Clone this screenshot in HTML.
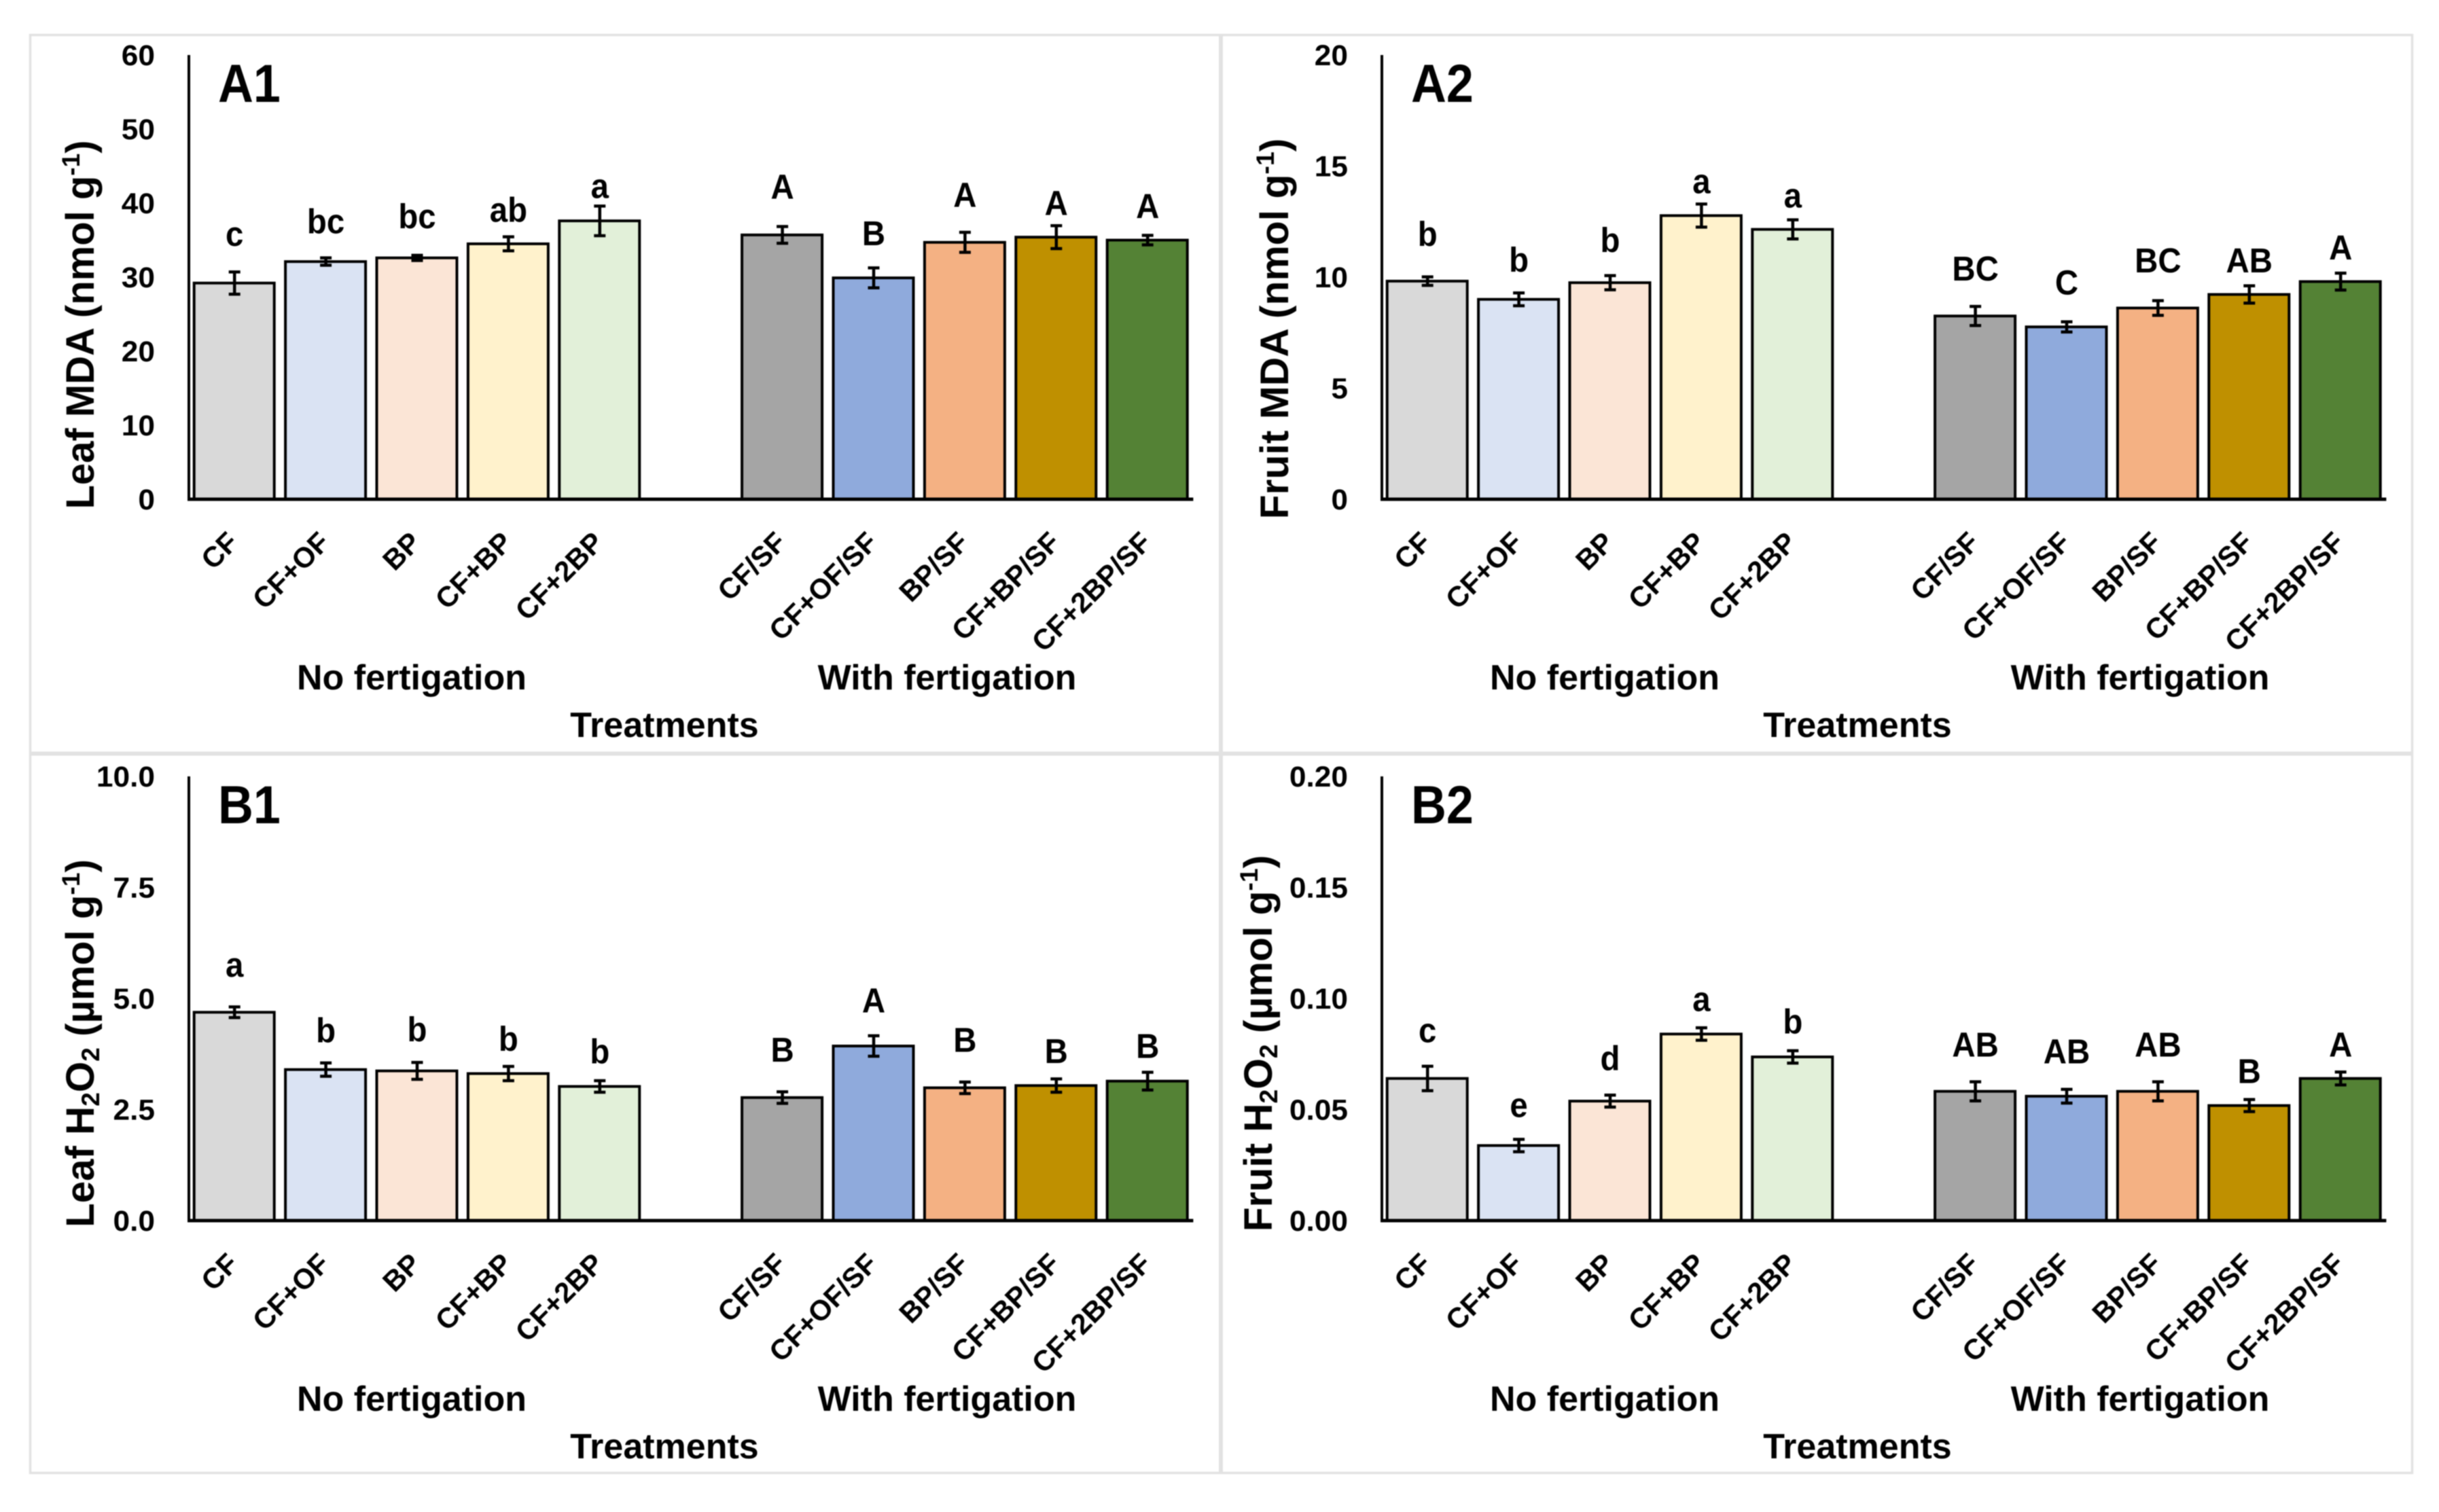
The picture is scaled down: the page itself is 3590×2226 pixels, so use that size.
<!DOCTYPE html>
<html lang="en">
<head>
<meta charset="utf-8">
<title>Leaf and fruit MDA and H2O2 by treatment</title>
<style>
  html, body { margin: 0; padding: 0; background: #fff; }
  body { width: 3590px; height: 2226px; overflow: hidden; }
  svg { display: block; filter: blur(0.9px); }
  text { font-family: "Liberation Sans", sans-serif; font-weight: 700; fill: #000; }
</style>
</head>
<body>
<svg id="fig" xmlns="http://www.w3.org/2000/svg" width="3590" height="2226" viewBox="0 0 3590 2226">
  <rect x="0" y="0" width="3590" height="2226" fill="#fff"/>
  <g fill="none" stroke="#e2e2e2">
    <rect x="44.5" y="51.5" width="3506" height="2117" stroke-width="3.5"/>
    <line x1="1797" y1="51" x2="1797" y2="2168" stroke-width="6"/>
    <line x1="44" y1="1109.5" x2="3551" y2="1109.5" stroke-width="6"/>
  </g>

  <g font-size="79">
    <text transform="translate(321,150) scale(.91,1)">A1</text>
    <text transform="translate(2077,150) scale(.91,1)">A2</text>
    <text transform="translate(321,1212) scale(.91,1)">B1</text>
    <text transform="translate(2077,1212) scale(.91,1)">B2</text>
  </g>

  <g font-size="58" text-anchor="middle">
    <text transform="translate(138,478) rotate(-90) scale(1.0,1)">Leaf MDA (nmol g<tspan font-size="37" dy="-21">-1</tspan><tspan dy="21">)</tspan></text>
    <text transform="translate(1896,484) rotate(-90) scale(1.015,1)">Fruit MDA (nmol g<tspan font-size="37" dy="-21">-1</tspan><tspan dy="21">)</tspan></text>
    <text transform="translate(138,1536) rotate(-90) scale(1.005,1)">Leaf H<tspan font-size="37" dy="8">2</tspan><tspan dy="-8">O</tspan><tspan font-size="37" dy="8">2</tspan><tspan dy="-8"> (µmol g</tspan><tspan font-size="37" dy="-21">-1</tspan><tspan dy="21">)</tspan></text>
    <text transform="translate(1872,1536) rotate(-90) scale(1.01,1)">Fruit H<tspan font-size="37" dy="8">2</tspan><tspan dy="-8">O</tspan><tspan font-size="37" dy="8">2</tspan><tspan dy="-8"> (µmol g</tspan><tspan font-size="37" dy="-21">-1</tspan><tspan dy="21">)</tspan></text>
  </g>

  <g font-size="52" text-anchor="middle">
    <text x="606" y="1015">No fertigation</text>
    <text x="1394" y="1015">With fertigation</text>
    <text x="978" y="1085">Treatments</text>
    <text x="2362" y="1015">No fertigation</text>
    <text x="3150" y="1015">With fertigation</text>
    <text x="2734" y="1085">Treatments</text>
    <text x="606" y="2077">No fertigation</text>
    <text x="1394" y="2077">With fertigation</text>
    <text x="978" y="2147">Treatments</text>
    <text x="2362" y="2077">No fertigation</text>
    <text x="3150" y="2077">With fertigation</text>
    <text x="2734" y="2147">Treatments</text>
  </g>
</svg>

<script>
const categories = ['CF', 'CF+OF', 'BP', 'CF+BP', 'CF+2BP', 'CF/SF', 'CF+OF/SF', 'BP/SF', 'CF+BP/SF', 'CF+2BP/SF'];

const a1Ticks = ['0', '10', '20', '30', '40', '50', '60'];
const a1Values = [29.2, 32.1, 32.6, 34.5, 37.6, 35.7, 29.9, 34.7, 35.4, 35.0];
const a1Errors = [1.5, 0.5, 0.35, 0.95, 2.0, 1.13, 1.35, 1.35, 1.55, 0.64];
const a1Letters = ['c', 'bc', 'bc', 'ab', 'a', 'A', 'B', 'A', 'A', 'A'];
const a1LetterLevels = [34.2, 35.9, 36.6, 37.5, 40.7, 40.6, 34.3, 39.5, 38.4, 38.0];

const a2Ticks = ['0', '5', '10', '15', '20'];
const a2Values = [9.82, 9.0, 9.75, 12.77, 12.15, 8.25, 7.76, 8.61, 9.22, 9.8];
const a2Errors = [0.19, 0.29, 0.32, 0.52, 0.43, 0.43, 0.23, 0.33, 0.39, 0.38];
const a2Letters = ['b', 'b', 'b', 'a', 'a', 'BC', 'C', 'BC', 'AB', 'A'];
const a2LetterLevels = [11.4, 10.24, 11.13, 13.78, 13.14, 9.85, 9.22, 10.21, 10.21, 10.8];

const b1Ticks = ['0.0', '2.5', '5.0', '7.5', '10.0'];
const b1Values = [4.69, 3.40, 3.37, 3.31, 3.02, 2.77, 3.93, 2.99, 3.04, 3.14];
const b1Errors = [0.12, 0.15, 0.19, 0.16, 0.13, 0.13, 0.23, 0.13, 0.15, 0.20];
const b1Letters = ['a', 'b', 'b', 'b', 'b', 'B', 'A', 'B', 'B', 'B'];
const b1LetterLevels = [5.49, 4.01, 4.04, 3.82, 3.54, 3.58, 4.69, 3.80, 3.55, 3.66];

const b2Ticks = ['0.00', '0.05', '0.10', '0.15', '0.20'];
const b2Values = [0.0640, 0.0338, 0.0538, 0.0840, 0.0737, 0.0582, 0.0560, 0.0582, 0.0518, 0.0640];
const b2Errors = [0.0055, 0.0028, 0.0027, 0.0028, 0.0028, 0.0043, 0.0031, 0.0043, 0.0027, 0.0029];
const b2Letters = ['c', 'e', 'd', 'a', 'b', 'AB', 'AB', 'AB', 'B', 'A'];
const b2LetterLevels = [0.0803, 0.0467, 0.0678, 0.0944, 0.0842, 0.0739, 0.0708, 0.0739, 0.0619, 0.0738];

const barColors = ['#D9D9D9', '#DAE3F3', '#FBE5D6', '#FFF2CC', '#E2F0D9', '#A5A5A5', '#8FAADC', '#F4B183', '#BF9000', '#548235'];

const NS = 'http://www.w3.org/2000/svg';
const fig = document.getElementById('fig');
const SLOT = 134.4, BAR_W = 118, PLOT_H = 654, PLOT_SLOTS = 11;

function make(parent, tag, attrs) {
  const el = document.createElementNS(NS, tag);
  for (const k in attrs) el.setAttribute(k, attrs[k]);
  parent.appendChild(el);
  return el;
}

function drawPanel(id, left, base, maxValue, ticks, values, errors, letters, levels) {
  const y = v => base - v / maxValue * PLOT_H;
  const x = i => left + (i + (i >= 5 ? 1 : 0) + 0.5) * SLOT;

  const g = make(fig, 'g', {});
  
  

  ticks.forEach(label => {
    const t = make(g, 'text', {
      transform: 'translate(' + (left - 50) + ',' + (y(parseFloat(label)) + 15) + ') scale(1.03,1)',
      'text-anchor': 'end', 'font-size': 43
    });
    
    
    t.textContent = label;
  });

  values.forEach((v, i) => {
    const bar = make(g, 'rect', {
      x: x(i) - BAR_W / 2 - 0.5, y: y(v), width: BAR_W, height: base - y(v),
      fill: barColors[i], stroke: '#000', 'stroke-width': 4
    });
    
    
  });

  values.forEach((v, i) => {
    const hi = y(v + errors[i]), lo = y(v - errors[i]);
    const err = make(g, 'path', {
      d: 'M' + x(i) + ' ' + hi + 'V' + lo + 'M' + (x(i) - 8.5) + ' ' + hi + 'h17M' + (x(i) - 8.5) + ' ' + lo + 'h17',
      fill: 'none', stroke: '#000', 'stroke-width': 4.5
    });
    
    
  });

  const yAxis = make(g, 'line', { x1: left, y1: base - PLOT_H, x2: left, y2: base + 2, stroke: '#000', 'stroke-width': 4 });
  
  

  const xAxis = make(g, 'line', { x1: left - 2, y1: base, x2: left + PLOT_SLOTS * SLOT, y2: base, stroke: '#000', 'stroke-width': 5 });
  
  

  letters.forEach((s, i) => {
    const t = make(g, 'text', {
      transform: 'translate(' + x(i) + ',' + y(levels[i]) + ') scale(.93,1)',
      'text-anchor': 'middle', 'font-size': 51
    });
    
    
    t.textContent = s;
  });

  categories.forEach((c, i) => {
    const t = make(g, 'text', {
      transform: 'translate(' + (x(i) + 8) + ',' + (base + 66) + ') rotate(-45)',
      'text-anchor': 'end', 'font-size': 42
    });
    
    
    t.textContent = c;
  });
}

drawPanel('a1', 278, 735, 60, a1Ticks, a1Values, a1Errors, a1Letters, a1LetterLevels);
drawPanel('a2', 2034, 735, 20, a2Ticks, a2Values, a2Errors, a2Letters, a2LetterLevels);
drawPanel('b1', 278, 1797, 10, b1Ticks, b1Values, b1Errors, b1Letters, b1LetterLevels);
drawPanel('b2', 2034, 1797, 0.2, b2Ticks, b2Values, b2Errors, b2Letters, b2LetterLevels);
</script>
</body>
</html>
